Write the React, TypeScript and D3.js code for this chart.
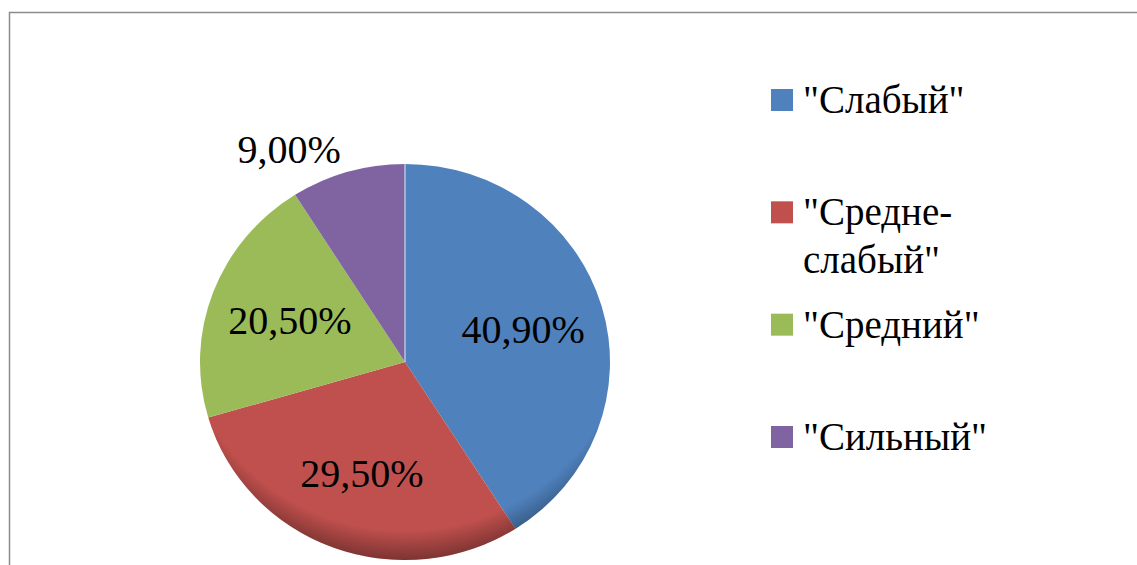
import React from 'react';
import * as d3 from 'd3';

const CATEGORIES = ['"Слабый"', '"Средне-слабый"', '"Средний"', '"Сильный"'];
const LEGEND_LINES = [['"Слабый"'], ['"Средне-', 'слабый"'], ['"Средний"'], ['"Сильный"']];
const VALUES = [40.9, 29.5, 20.5, 9.0];
const LABELS = ['40,90%', '29,50%', '20,50%', '9,00%'];
const COLORS = ['#4F81BD', '#C0504D', '#9BBB59', '#8064A2'];

const width = 1137;
const height = 565;
const cx = 405;
const cy = 362;
const radius = 205;
const yScale = 0.966; // slight tilt like the original
const FONT = "'Times New Roman'";

export default function App() {
    const pie = d3.pie<number>().sort(null).value(d => d);
    const arcs = pie(VALUES);
    const arc = d3.arc<d3.PieArcDatum<number>>().innerRadius(0).outerRadius(radius);
    const inner = d3.arc<d3.PieArcDatum<number>>().innerRadius(radius * 0.6).outerRadius(radius * 0.6);
    const legendY = d3.scalePoint<string>().domain(CATEGORIES).range([113, 450]);

    const labels = arcs.map((d, i) => {
        const mid = (d.startAngle + d.endAngle) / 2;
        if (d.endAngle - d.startAngle < 0.6) {
            // small slice: label outside end
            const r = radius + 25;
            return {
                x: cx + r * Math.sin(mid),
                y: cy - r * Math.cos(mid) * yScale,
                anchor: Math.sin(mid) < 0 ? 'end' : 'start',
                text: LABELS[i],
            };
        }
        const [x, y] = inner.centroid(d);
        return { x: cx + x, y: cy + y * yScale, anchor: 'middle', text: LABELS[i] };
    });

    return (
        <svg width={width} height={height} style={{ position: 'absolute', left: 0, top: 0 }}>
            <defs>
                <radialGradient id="rim" cx="50%" cy="38%" r="62%">
                    <stop offset="0%" stopColor="#000" stopOpacity={0} />
                    <stop offset="88%" stopColor="#000" stopOpacity={0} />
                    <stop offset="100%" stopColor="#000" stopOpacity={0.35} />
                </radialGradient>
            </defs>

            {/* chart frame, cropped at right and bottom */}
            <rect x={9.5} y={12.5} width={width + 20} height={height + 20}
                fill="none" stroke="#8c8c8c" strokeWidth={1.5} />

            <g transform={`translate(${cx},${cy}) scale(1,${yScale})`}>
                {arcs.map((d, i) => (
                    <path key={i} d={arc(d) || ''} fill={COLORS[i]} />
                ))}
                <circle r={radius} fill="url(#rim)" />
                <line x1={0} y1={0} x2={0} y2={-radius} stroke="#c9daf0" strokeWidth={1.2} />
            </g>

            {labels.map((l, i) => (
                <text key={i} x={l.x} y={l.y + 14} textAnchor={l.anchor}
                    fontSize={40} style={{ fontFamily: FONT }}>
                    {l.text}
                </text>
            ))}

            {CATEGORIES.map((c, i) => {
                const base = legendY(c) as number;
                return (
                    <g key={c}>
                        <rect x={771} y={base - 24} width={22} height={22} fill={COLORS[i]} />
                        {LEGEND_LINES[i].map((line, j) => (
                            <text key={j} x={803} y={base + j * 48} fontSize={39}
                                style={{ fontFamily: FONT }}>
                                {line}
                            </text>
                        ))}
                    </g>
                );
            })}
        </svg>
    );
}
